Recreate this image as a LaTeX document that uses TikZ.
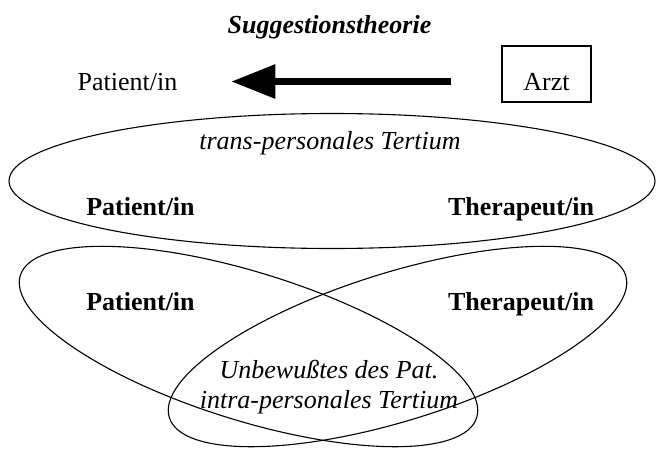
\documentclass[tikz,border=0pt]{standalone}
\usepackage{fontspec}
\setmainfont{Liberation Serif}
\usepackage{tikz}
\usetikzlibrary{arrows.meta, positioning}

\begin{document}
\begin{tikzpicture}[
  x=0.5pt, y=0.5pt,
  font=\fontsize{13}{15}\selectfont,
  ring/.style={draw, line width=0.55pt},
  role/.style={font=\fontsize{13}{15}\selectfont\bfseries, anchor=base},
  tert/.style={font=\fontsize{13}{15}\selectfont\itshape},
  push/.style={-{Triangle[length=22pt, width=16.5pt]}, line width=3.2pt}
]
  \useasboundingbox (0,0) rectangle (656,451);
  \node[font=\fontsize{13}{15}\selectfont\bfseries\itshape, anchor=base] (titel) at (329.5,417) {Suggestionstheorie};
  \node[anchor=base] (pat) at (127.5,361) {Patient/in};
  \node[draw, line width=0.55pt, minimum width=44.5pt, minimum height=28pt,
        text height=16pt, text depth=0pt] (arzt) at (546.5,377) {Arzt};
  \draw[push, shorten <=25pt, shorten >=23.5pt] (pat.east -| arzt.west) -- (pat.east);

  % Tertium-Kreise
  \draw[ring] (332,270) ellipse [x radius=323, y radius=67.5];
  \draw[ring, rotate around={-17.3:(248.5,104.5)}] (248.5,104.5) ellipse [x radius=239, y radius=74];
  \draw[ring, rotate around={17.3:(397.5,104.5)}] (397.5,104.5) ellipse [x radius=239, y radius=74];

  \node[tert, anchor=base] (trans) at (330,302) {trans-personales Tertium};
  \node[role] (patoben) at (140.5,236) {Patient/in};
  \node[role] (theroben) at (521,236) {Therapeut/in};
  \node[role] (patunten) at (140.5,141) {Patient/in};
  \node[role] (therunten) at (521,141) {Therapeut/in};
  \node[tert, align=center] (intra) at (329,64) {Unbewußtes des Pat.\\intra-personales Tertium};
\end{tikzpicture}
\end{document}
